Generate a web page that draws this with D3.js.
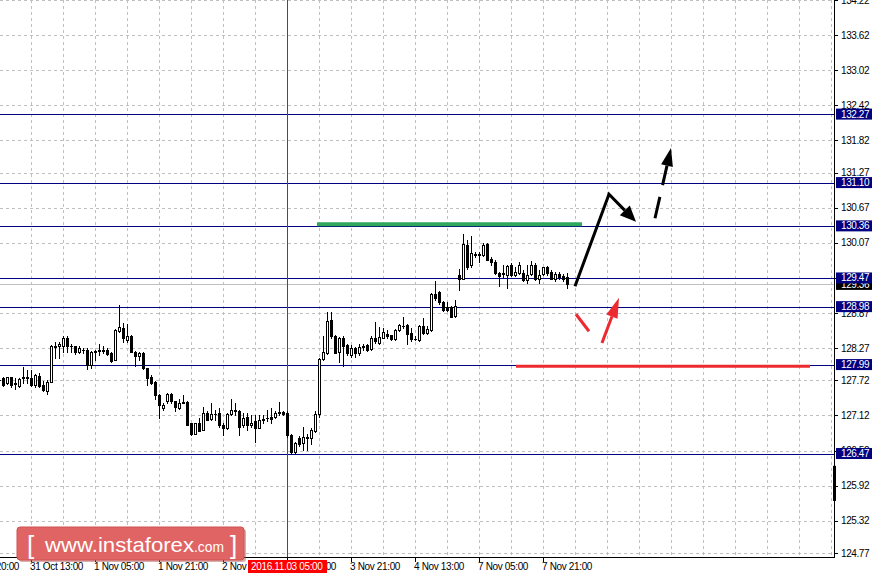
<!DOCTYPE html>
<html>
<head>
<meta charset="utf-8">
<script src="https://cdn.jsdelivr.net/npm/d3@7"></script>
<style>
  body { margin: 0; background: #fff; }
  svg { display: block; }
  text { font-family: "Liberation Sans", Arial, sans-serif; }
</style>
</head>
<body>
<div id="chart"></div>
<script>
var svgWidth = 875;
var svgHeight = 578;

// plot frame (price axis on the right, time axis below)
var plotRight = 834;
var plotBottom = 557;

// H1 candles, [open, high, low, close], one bar per hour
var candles = [
  [127.72,127.73,127.71,127.72],[127.76,127.78,127.63,127.64],[127.67,127.78,127.65,127.77],
  [127.77,127.78,127.60,127.64],[127.68,127.76,127.58,127.65],[127.63,127.76,127.61,127.74],
  [127.77,127.95,127.67,127.76],[127.76,127.90,127.67,127.78],[127.76,127.89,127.63,127.64],
  [127.64,127.83,127.60,127.82],[127.80,127.84,127.61,127.63],[127.64,127.71,127.53,127.55],
  [127.53,127.73,127.48,127.70],[127.70,128.33,127.69,128.30],[128.31,128.38,128.11,128.29],
  [128.30,128.38,128.11,128.34],[128.31,128.47,128.21,128.45],[128.45,128.47,128.21,128.30],
  [128.30,128.34,128.21,128.30],[128.30,128.31,128.17,128.21],[128.21,128.30,128.18,128.27],
  [128.24,128.27,128.18,128.24],[128.24,128.27,127.92,127.98],[127.98,128.22,127.93,128.20],
  [128.21,128.24,128.07,128.22],[128.23,128.35,128.15,128.24],[128.24,128.30,128.18,128.23],
  [128.24,128.27,128.15,128.17],[128.18,128.21,128.04,128.05],[128.07,128.59,128.06,128.58],
  [128.57,129.01,128.54,128.63],[128.61,128.70,128.38,128.44],[128.41,128.68,128.38,128.47],
  [128.47,128.50,128.20,128.21],[128.21,128.22,127.97,128.14],[128.13,128.20,128.06,128.18],
  [128.18,128.20,127.92,127.93],[127.93,127.93,127.64,127.76],[127.78,127.81,127.65,127.67],
  [127.70,127.71,127.41,127.47],[127.47,127.48,127.08,127.30],[127.24,127.33,127.21,127.30],
  [127.36,127.50,127.33,127.49],[127.49,127.50,127.33,127.36],[127.36,127.37,127.19,127.26],
  [127.24,127.41,127.23,127.34],[127.34,127.47,127.33,127.35],[127.35,127.37,126.95,126.96],
  [126.99,127.00,126.78,126.80],[126.81,127.00,126.80,126.99],[126.99,127.07,126.85,126.86],
  [126.87,127.27,126.87,127.17],[127.17,127.19,127.04,127.04],[127.06,127.33,127.04,127.14],
  [127.14,127.21,127.04,127.15],[127.16,127.24,126.93,126.95],[126.96,126.99,126.79,126.90],
  [126.90,127.16,126.89,127.14],[127.15,127.41,127.13,127.22],[127.21,127.34,127.13,127.19],
  [127.19,127.21,126.79,126.92],[126.95,127.16,126.93,127.07],[127.09,127.16,126.87,126.95],
  [126.95,127.13,126.93,127.00],[127.02,127.12,126.67,126.90],[126.91,127.13,126.90,127.04],
  [127.05,127.13,126.99,127.06],[127.07,127.21,127.03,127.08],[127.10,127.24,126.99,127.06],
  [127.10,127.19,127.07,127.17],[127.18,127.35,127.13,127.17],[127.18,127.19,127.12,127.15],
  [127.16,127.19,126.76,126.78],[126.79,126.80,126.47,126.50],[126.50,126.67,126.47,126.65],
  [126.74,126.77,126.60,126.64],[126.65,126.92,126.53,126.76],[126.76,126.81,126.53,126.73],
  [126.73,126.90,126.64,126.87],[126.86,127.20,126.84,127.14],[127.14,128.10,127.10,128.08],
  [128.08,128.47,128.06,128.20],[128.18,128.88,128.17,128.74],[128.75,128.88,128.45,128.47],
  [128.48,128.49,128.18,128.19],[128.21,128.46,128.04,128.45],[128.45,128.47,127.96,128.31],
  [128.33,128.35,128.15,128.18],[128.15,128.32,128.12,128.28],[128.28,128.29,128.12,128.18],
  [128.18,128.35,128.15,128.29],[128.29,128.35,128.24,128.31],[128.33,128.35,128.23,128.24],
  [128.25,128.47,128.24,128.44],[128.44,128.72,128.36,128.40],[128.36,128.64,128.35,128.46],
  [128.45,128.61,128.44,128.54],[128.52,128.58,128.45,128.47],[128.49,128.50,128.41,128.42],
  [128.42,128.59,128.41,128.58],[128.58,128.69,128.57,128.66],[128.65,128.81,128.61,128.65],
  [128.66,128.69,128.35,128.52],[128.53,128.61,128.40,128.42],[128.42,128.47,128.41,128.43],
  [128.41,128.66,128.40,128.65],[128.65,128.79,128.52,128.53],[128.53,128.65,128.52,128.59],
  [128.58,129.21,128.57,129.20],[129.20,129.41,129.10,129.12],[129.23,129.25,129.03,129.06],
  [129.06,129.07,128.91,128.92],[128.98,129.06,128.91,128.92],[128.97,128.99,128.80,128.81],
  [128.82,129.09,128.81,128.99],[129.52,129.63,129.26,129.46],[129.46,130.22,129.45,130.05],
  [130.03,130.12,129.62,129.66],[129.69,130.19,129.66,129.89],[129.87,129.91,129.83,129.88],
  [129.88,129.91,129.75,129.87],[129.86,130.06,129.85,130.04],[130.05,130.06,129.77,129.78],
  [129.80,129.82,129.69,129.75],[129.75,129.78,129.54,129.55],[129.56,129.58,129.33,129.50],
  [129.54,129.70,129.49,129.55],[129.52,129.69,129.29,129.67],[129.69,129.72,129.50,129.52],
  [129.52,129.66,129.50,129.58],[129.55,129.75,129.54,129.69],[129.56,129.61,129.41,129.43],
  [129.44,129.69,129.38,129.52],[129.54,129.76,129.52,129.70],[129.70,129.72,129.43,129.46],
  [129.46,129.61,129.38,129.52],[129.53,129.66,129.52,129.65],[129.66,129.67,129.52,129.55],
  [129.57,129.61,129.45,129.46],[129.45,129.57,129.42,129.53],[129.53,129.57,129.45,129.49],
  [129.50,129.53,129.42,129.46],[129.49,129.56,129.29,129.36]
];

// price axis labels
var yTicks = [134.22, 133.62, 133.02, 132.42, 131.82, 131.27, 130.67, 130.07, 129.47,
              128.87, 128.27, 127.72, 127.12, 126.52, 125.92, 125.32, 124.77];

// time axis labels (bar index -> label)
var xTickBars = [-8, 8, 24, 40, 56, 72, 88, 104, 120, 136];
var xTickLabels = ["28 Oct 20:00", "31 Oct 13:00", "1 Nov 05:00", "1 Nov 21:00", "2 Nov 13:00",
                   "3 Nov 05:00", "3 Nov 21:00", "4 Nov 13:00", "7 Nov 05:00", "7 Nov 21:00"];

// horizontal levels
var levels = [132.27, 131.10, 130.36, 129.47, 128.98, 127.99, 126.47];
var lastPrice = 129.36;

// vertical line
var markerBar = 72;
var markerLabel = "2016.11.03 05:00";

// drawn annotations: [bar, price]
var greenLine = [[79.5, 130.39], [145.75, 130.39]];
var redLine = [[129.25, 127.96], [202.75, 127.96]];
var blackPath = [[144, 129.33], [152.5, 130.90], [159.25, 130.43]];
var blackDashed = [[164, 130.49], [168, 131.69]];
var redShort = [[144.25, 128.85], [147.5, 128.56]];
var redArrow = [[150.75, 128.36], [155, 129.13]];

var svg = d3.select("#chart")
  .append("svg")
  .attr("width", svgWidth)
  .attr("height", svgHeight);

// scales
var xScale = d3.scaleLinear().domain([0, 209]).range([-1, 835]);
var yScale = d3.scaleLinear().domain([124.77, 134.22]).range([553, 0]);

var plot = svg.append("g");

// Grid
// ==============================
var gridBars = d3.range(8, 210, 8);
plot.selectAll(".vgrid")
  .data(gridBars)
  .enter()
  .append("line")
  .attr("x1", d => Math.round(xScale(d)) + 0.5)
  .attr("x2", d => Math.round(xScale(d)) + 0.5)
  .attr("y1", 0)
  .attr("y2", plotBottom)
  .attr("stroke", "#c0c0c0")
  .attr("stroke-dasharray", "3,3");

plot.selectAll(".hgrid")
  .data(yTicks)
  .enter()
  .append("line")
  .attr("x1", 0)
  .attr("x2", plotRight)
  .attr("y1", d => Math.round(yScale(d)) + 0.5)
  .attr("y2", d => Math.round(yScale(d)) + 0.5)
  .attr("stroke", "#c0c0c0")
  .attr("stroke-dasharray", "3,3");

// price line
plot.append("line")
  .attr("x1", 0).attr("x2", plotRight)
  .attr("y1", Math.round(yScale(lastPrice)) + 0.5)
  .attr("y2", Math.round(yScale(lastPrice)) + 0.5)
  .attr("stroke", "#c0c0c0");

// levels
plot.selectAll(".level")
  .data(levels)
  .enter()
  .append("line")
  .attr("x1", 0).attr("x2", plotRight)
  .attr("y1", d => Math.round(yScale(d)) + 0.5)
  .attr("y2", d => Math.round(yScale(d)) + 0.5)
  .attr("stroke", "#000080");

// vertical marker
plot.append("line")
  .attr("x1", xScale(markerBar) + 0.5)
  .attr("x2", xScale(markerBar) + 0.5)
  .attr("y1", 0).attr("y2", plotBottom)
  .attr("stroke", "#ff0000");

// Candles
// ==============================
var candleG = plot.append("g").attr("shape-rendering", "crispEdges");

candleG.selectAll(".wick")
  .data(candles)
  .enter()
  .append("line")
  .attr("x1", (d, i) => xScale(i) + 0.5)
  .attr("x2", (d, i) => xScale(i) + 0.5)
  .attr("y1", d => Math.round(yScale(d[1])))
  .attr("y2", d => Math.round(yScale(d[2])) + 1)
  .attr("stroke", "#000");

candleG.selectAll(".body")
  .data(candles)
  .enter()
  .append("rect")
  .attr("x", (d, i) => xScale(i) - 0.5)
  .attr("y", d => Math.round(yScale(Math.max(d[0], d[3]))) + 0.5)
  .attr("width", 2)
  .attr("height", d => Math.max(0.01, Math.round(yScale(Math.min(d[0], d[3]))) - Math.round(yScale(Math.max(d[0], d[3])))))
  .attr("fill", d => d[3] >= d[0] ? "#fff" : "#000")
  .attr("stroke", "#000");

// Annotations
// ==============================
var line = d3.line().x(d => xScale(d[0])).y(d => yScale(d[1]));

plot.append("path").attr("d", line(greenLine))
  .attr("stroke", "#2ea85a").attr("stroke-width", 4).attr("fill", "none");
plot.append("path").attr("d", line(redLine))
  .attr("stroke", "#ec2a2f").attr("stroke-width", 3).attr("fill", "none");

function drawArrow(pts, color, dash, headLen, headHalf) {
  var px = pts.map(d => [xScale(d[0]), yScale(d[1])]);
  var tip = px[px.length - 1];
  var prev = px[px.length - 2];
  var dx = tip[0] - prev[0], dy = tip[1] - prev[1];
  var len = Math.sqrt(dx * dx + dy * dy);
  var ux = dx / len, uy = dy / len;
  var base = [tip[0] - ux * headLen, tip[1] - uy * headLen];
  var shaft = px.slice(0, -1).concat([base]);
  plot.append("path")
    .attr("d", d3.line()(shaft))
    .attr("stroke", color)
    .attr("stroke-width", 3)
    .attr("stroke-dasharray", dash)
    .attr("stroke-linejoin", "miter")
    .attr("fill", "none");
  plot.append("path")
    .attr("d", d3.line()([
      tip,
      [base[0] - uy * headHalf, base[1] + ux * headHalf],
      [base[0] + uy * headHalf, base[1] - ux * headHalf]
    ]) + "Z")
    .attr("fill", color);
}

drawArrow(blackPath, "#000", null, 16, 7);
drawArrow(blackDashed, "#000", "22,12", 18, 6);
plot.append("path").attr("d", line(redShort))
  .attr("stroke", "#ec2a2f").attr("stroke-width", 3).attr("fill", "none");
drawArrow(redArrow, "#ec2a2f", null, 20, 6);

// Axes frame
// ==============================
svg.append("line")
  .attr("x1", plotRight + 0.5).attr("x2", plotRight + 0.5)
  .attr("y1", 0).attr("y2", plotBottom + 1)
  .attr("stroke", "#000");
svg.append("line")
  .attr("x1", 0).attr("x2", plotRight + 1)
  .attr("y1", plotBottom + 0.5).attr("y2", plotBottom + 0.5)
  .attr("stroke", "#000");

// shift marker on the price axis
svg.append("rect")
  .attr("x", plotRight - 1)
  .attr("y", yScale(126.26))
  .attr("width", 3)
  .attr("height", yScale(125.66) - yScale(126.26))
  .attr("fill", "#000");

// price axis
var yAxisG = svg.append("g");
yAxisG.selectAll(".ytick")
  .data(yTicks)
  .enter()
  .append("line")
  .attr("x1", plotRight).attr("x2", plotRight + 4)
  .attr("y1", d => Math.round(yScale(d)) + 0.5)
  .attr("y2", d => Math.round(yScale(d)) + 0.5)
  .attr("stroke", "#000");
yAxisG.selectAll(".ylabel")
  .data(yTicks)
  .enter()
  .append("text")
  .attr("x", 841)
  .attr("y", d => yScale(d))
  .attr("dy", "0.35em")
  .attr("font-size", "10px")
  .attr("letter-spacing", "-0.4px")
  .attr("fill", "#000")
  .text(d => d.toFixed(2));

// last price label
var lp = svg.append("g").attr("transform", `translate(836, ${yScale(lastPrice)})`);
lp.append("rect").attr("x", 0).attr("y", -5.5).attr("width", 36).attr("height", 11).attr("fill", "#000");
lp.append("text").attr("x", 5).attr("dy", "0.35em").attr("font-size", "10px")
  .attr("letter-spacing", "-0.4px").attr("fill", "#fff").text(lastPrice.toFixed(2));

// level labels
var lvl = svg.selectAll(".lvlLabel")
  .data(levels)
  .enter()
  .append("g")
  .attr("transform", d => `translate(836, ${yScale(d)})`);
lvl.append("rect").attr("x", 0).attr("y", -5.5).attr("width", 36).attr("height", 11).attr("fill", "#000080");
lvl.append("text").attr("x", 5).attr("dy", "0.35em").attr("font-size", "10px")
  .attr("letter-spacing", "-0.4px").attr("fill", "#fff").text(d => d.toFixed(2));

// time axis
var xAxisG = svg.append("g");
xAxisG.selectAll(".xtick")
  .data(xTickBars)
  .enter()
  .append("line")
  .attr("x1", d => xScale(d) + 0.5).attr("x2", d => xScale(d) + 0.5)
  .attr("y1", plotBottom).attr("y2", plotBottom + 5)
  .attr("stroke", "#000");
xAxisG.selectAll(".xlabel")
  .data(xTickBars)
  .enter()
  .append("text")
  .attr("x", d => xScale(d) - 1)
  .attr("y", 570)
  .attr("font-size", "10px")
  .attr("letter-spacing", "-0.35px")
  .attr("fill", "#000")
  .text((d, i) => xTickLabels[i]);

// marker time label
var ml = svg.append("g").attr("transform", `translate(${xScale(markerBar) - 39}, 560)`);
ml.append("rect").attr("width", 79).attr("height", 13).attr("fill", "#ff0000");
ml.append("text").attr("x", 3).attr("y", 10).attr("font-size", "10px")
  .attr("letter-spacing", "-0.35px").attr("fill", "#fff").text(markerLabel);

// Logo
// ==============================
var logo = svg.append("g").attr("transform", "translate(17, 527)");
logo.append("rect").attr("x", 2).attr("y", 2).attr("width", 227).attr("height", 33)
  .attr("rx", 3).attr("fill", "#a84a4a").attr("opacity", 0.45);
logo.append("rect").attr("width", 227).attr("height", 33).attr("rx", 3)
  .attr("fill", "#e16464").attr("stroke", "#d05050");
var brand = logo.append("g")
  .attr("fill", "#fff")
  .style("font-family", "'DejaVu Sans', Verdana, sans-serif");
brand.append("text").attr("x", 10).attr("y", 27).attr("font-size", "26px")
  .attr("font-weight", "200").text("[");
brand.append("text").attr("x", 28).attr("y", 25).attr("font-size", "21px")
  .attr("textLength", 149).attr("lengthAdjust", "spacingAndGlyphs").text("www.instaforex");
brand.append("text").attr("x", 177).attr("y", 25).attr("font-size", "15px")
  .attr("textLength", 30).attr("lengthAdjust", "spacingAndGlyphs").text(".com");
brand.append("text").attr("x", 213).attr("y", 27).attr("font-size", "26px")
  .attr("font-weight", "200").text("]");
</script>
</body>
</html>
